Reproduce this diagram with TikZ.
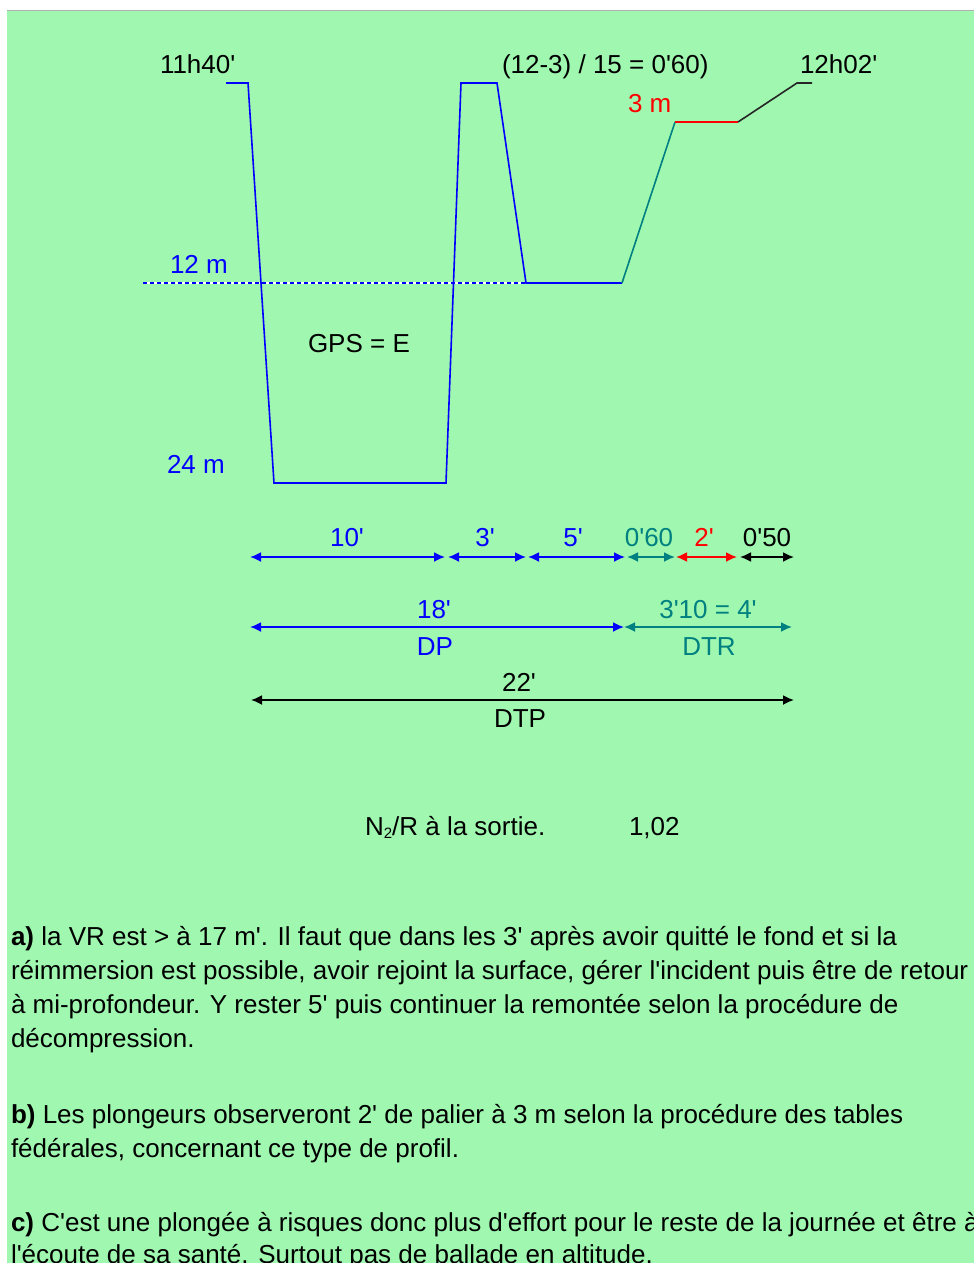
\documentclass[tikz,border=0pt]{standalone}
\usepackage{fontspec}
\setmainfont{Liberation Sans}[Ligatures=TeXOff]
\usetikzlibrary{arrows.meta}
\definecolor{bg}{RGB}{160,248,176}
\definecolor{pteal}{RGB}{0,128,128}
\definecolor{pblue}{RGB}{0,0,255}
\definecolor{pred}{RGB}{255,0,0}
\definecolor{edge}{RGB}{176,176,176}
\begin{document}
\begin{tikzpicture}[x=1pt,y=-1pt,
  every node/.style={inner sep=0pt,outer sep=0pt,font=\fontsize{26}{34}\selectfont},
  lbl/.style={anchor=base west},
  ctr/.style={anchor=base},
  prof/.style={line width=1.6pt,line join=miter},
  dimarrow/.style={line width=1.8pt,{Latex[length=11pt,width=10pt]}-{Latex[length=11pt,width=10pt]}}]
\useasboundingbox (0,0) rectangle (974,1263);
\clip (0,0) rectangle (974,1263);
\fill[white] (0,0) rectangle (974,1263);
\fill[bg] (7,11) rectangle (974,1263);
\draw[edge,line width=1.5pt] (7,10.5) -- (974,10.5);

% profile coordinates
\coordinate (s0) at (226,83);
\coordinate (s1) at (248,83);
\coordinate (b0) at (274,483);
\coordinate (b1) at (446,483);
\coordinate (t0) at (461,83);
\coordinate (t1) at (497,83);
\coordinate (m0) at (526,283);
\coordinate (m1) at (622,283);
\coordinate (p0) at (675,122);
\coordinate (p1) at (738,122);
\coordinate (e0) at (797,83);
\coordinate (e1) at (812,83);
\coordinate (d0) at (143,283);

% dotted 12 m line
\draw[white,line width=1.6pt] (d0) -- (m0);
\draw[pblue,line width=1.6pt,dash pattern=on 4pt off 3pt] (d0) -- (m0);

% profile
\draw[prof,pblue] (s0) -- (s1) -- (b0) -- (b1) -- (t0) -- (t1) -- (m0) -- (m1);
\draw[prof,pteal] (m1) -- (p0);
\draw[prof,pred] (p0) -- (p1);
\draw[prof,black!85] (p1) -- (e0) -- (e1);

% labels
\node[lbl] (l1140) at (160,74) {11h40'};
\node[lbl] (lcalc) at (502,74) {(12-3) / 15 = 0'60)};
\node[lbl] (l1202) at (800,74) {12h02'};
\node[lbl,text=pred] (l3m) at (628,112) {3 m};
\node[lbl,text=pblue] (l12m) at (170,273) {12 m};
\node[lbl,text=pblue] (l24m) at (167,473) {24 m};
\node[lbl] (lgps) at (308,352) {GPS = E};

% row 1
\coordinate (r1a) at (250,557); \coordinate (r1b) at (445,557);
\coordinate (r1c) at (448,557); \coordinate (r1d) at (526,557);
\coordinate (r1e) at (528,557); \coordinate (r1f) at (625,557);
\coordinate (r1g) at (627,557); \coordinate (r1h) at (675,557);
\coordinate (r1i) at (676,557); \coordinate (r1j) at (737,557);
\coordinate (r1k) at (740,557); \coordinate (r1l) at (794,557);
\draw[dimarrow,pblue] (r1a) -- (r1b);
\draw[dimarrow,pblue] (r1c) -- (r1d);
\draw[dimarrow,pblue] (r1e) -- (r1f);
\draw[dimarrow,pteal] (r1g) -- (r1h);
\draw[dimarrow,pred] (r1i) -- (r1j);
\draw[dimarrow,black] (r1k) -- (r1l);
\node[ctr,text=pblue] (t10) at (347,546) {10'};
\node[ctr,text=pblue] (t3) at (485,546) {3'};
\node[ctr,text=pblue] (t5) at (573,546) {5'};
\node[ctr,text=pteal] (t060) at (649,546) {0'60};
\node[ctr,text=pred] (t2) at (704,546) {2'};
\node[ctr,text=black] (t050) at (767,546) {0'50};

% row 2
\coordinate (r2a) at (250,627); \coordinate (r2b) at (624,627);
\coordinate (r2c) at (624,627); \coordinate (r2d) at (792,627);
\draw[dimarrow,pblue] (r2a) -- (r2b);
\draw[dimarrow,pteal] (r2c) -- (r2d);
\node[ctr,text=pblue] (t18) at (434,618) {18'};
\node[ctr,text=pblue] (tdp) at (435,655) {DP};
\node[ctr,text=pteal] (t310) at (708,618) {3'10 = 4'};
\node[ctr,text=pteal] (tdtr) at (709,655) {DTR};

% row 3
\coordinate (r3a) at (251,700); \coordinate (r3b) at (794,700);
\draw[dimarrow,black] (r3a) -- (r3b);
\node[ctr] (t22) at (519,691) {22'};
\node[ctr] (tdtp) at (520,727) {DTP};

% N2/R
\node[lbl] (n2r) at (365,835) {N\raisebox{-0.15em}{\fontsize{15}{15}\selectfont 2}/R à la sortie.};
\node[lbl] (n2v) at (629,835) {1,02};

% paragraphs
\node[lbl] (pa1) at (11,945) {{\bfseries a)} la VR est > à 17 m'. Il faut que dans les 3' après avoir quitté le fond et si la};
\node[lbl] (pa2) at (11,979) {réimmersion est possible, avoir rejoint la surface, gérer l'incident puis être de retour};
\node[lbl] (pa3) at (11,1013) {à mi-profondeur. Y rester 5' puis continuer la remontée selon la procédure de};
\node[lbl] (pa4) at (11,1047) {décompression.};
\node[lbl] (pb1) at (11,1123) {{\bfseries b)} Les plongeurs observeront 2' de palier à 3 m selon la procédure des tables};
\node[lbl] (pb2) at (11,1157) {fédérales, concernant ce type de profil.};
\node[lbl] (pc1) at (11,1231) {{\bfseries c)} C'est une plongée à risques donc plus d'effort pour le reste de la journée et être à};
\node[lbl] (pc2) at (11,1263) {l'écoute de sa santé. Surtout pas de ballade en altitude.};
\end{tikzpicture}
\end{document}
